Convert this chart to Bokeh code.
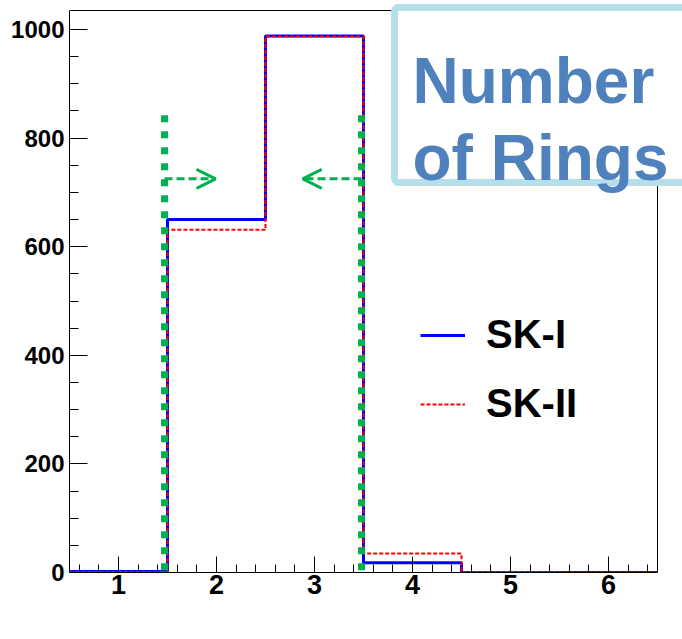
from bokeh.plotting import figure
from bokeh.models import (Range1d, SingleIntervalTicker, Legend, LegendItem,
                          Arrow, OpenHead, BoxAnnotation, Label)
from bokeh.embed import file_html
from bokeh.resources import INLINE

# Number of Cherenkov rings per event, bins centred on integers
ring_bins = [1, 2, 3, 4, 5, 6]
sk1_counts = [2, 650, 988, 18, 0, 0]
sk2_counts = [1, 631, 987, 35, 1, 0]

# Selection cut lines and arrows
cut_low = 1.47
cut_high = 3.48
cut_top = 842
arrow_level = 725
arrow_low_tip = 1.99
arrow_high_tip = 2.88

y_max = 1035
bin_edges = [b - 0.5 for b in ring_bins] + [ring_bins[-1] + 0.5]
x_lo, x_hi = bin_edges[0], bin_edges[-1]

FONT = "Liberation Sans"

# The drawing area spans 588 x 562 px for the histogram; the canvas region
# is extended to the right and top so the title box can overlap the frame.
area_w, area_h = 588, 562
frame_w, frame_h = 613, 572
x_end = x_lo + (x_hi - x_lo) * frame_w / area_w
y_end = y_max * frame_h / area_h

p = figure(width=682, height=639, frame_width=frame_w, frame_height=frame_h,
           min_border_left=69, min_border_right=0, min_border_top=0,
           min_border_bottom=67, output_backend="svg", toolbar_location=None,
           x_range=Range1d(x_lo, x_end), y_range=Range1d(0, y_end))

p.xgrid.visible = False
p.ygrid.visible = False
p.outline_line_color = None
p.background_fill_color = "white"
p.border_fill_color = "white"

# axes
p.xaxis.ticker = SingleIntervalTicker(interval=1, num_minor_ticks=5)
p.yaxis.ticker = SingleIntervalTicker(interval=200, num_minor_ticks=4)
p.xaxis.bounds = (x_lo, x_hi)
p.yaxis.bounds = (0, y_max)
for ax in (p.xaxis, p.yaxis):
    ax.axis_line_color = "black"
    ax.major_tick_line_color = "black"
    ax.minor_tick_line_color = "black"
    ax.major_tick_out = 0
    ax.minor_tick_out = 0
    ax.major_label_text_font = FONT
    ax.major_label_text_font_style = "bold"
    ax.major_label_text_color = "black"
p.xaxis.major_tick_in = 16
p.xaxis.minor_tick_in = 8
p.yaxis.major_tick_in = 18
p.yaxis.minor_tick_in = 9
p.xaxis.major_label_text_font_size = "27px"
p.yaxis.major_label_text_font_size = "24px"
p.xaxis.major_label_standoff = 2
p.yaxis.major_label_standoff = 5

# top and right edges of the histogram frame
p.line(x=[x_lo, x_hi, x_hi], y=[y_max, y_max, 0], line_color="black", line_width=1)

# histograms as steps
sk1 = p.step(x=bin_edges, y=sk1_counts + [sk1_counts[-1]], mode="after",
             line_color="#0000ff", line_width=3)
sk2 = p.step(x=bin_edges, y=sk2_counts + [sk2_counts[-1]], mode="after",
             line_color="#ff0000", line_width=2, line_dash="4 2")

# cut lines
green = "#00b050"
for cx in (cut_low, cut_high):
    p.line(x=[cx, cx], y=[cut_top, 0], line_color=green, line_width=7,
           line_dash="7 9", line_cap="butt")

p.add_layout(Arrow(x_start=cut_low, y_start=arrow_level, x_end=arrow_low_tip, y_end=arrow_level,
                   line_color=green, line_width=3, line_dash="8 4",
                   end=OpenHead(size=19, line_color=green, line_width=3)))
p.add_layout(Arrow(x_start=cut_high, y_start=arrow_level, x_end=arrow_high_tip, y_end=arrow_level,
                   line_color=green, line_width=3, line_dash="8 4",
                   end=OpenHead(size=19, line_color=green, line_width=3)))

# legend
legend = Legend(items=[LegendItem(label="SK-I", renderers=[sk1]),
                       LegendItem(label="SK-II", renderers=[sk2])],
                location=(351, 146), glyph_width=45, glyph_height=30,
                label_standoff=21, spacing=24, padding=0, margin=0,
                label_text_font=FONT, label_text_font_style="bold",
                label_text_font_size="40px", label_text_color="black",
                border_line_alpha=0, background_fill_alpha=0)
p.add_layout(legend)

# title box
p.add_layout(BoxAnnotation(left=325, right=640, top=565, bottom=390,
                           left_units="screen", right_units="screen",
                           top_units="screen", bottom_units="screen",
                           fill_color="white", fill_alpha=1,
                           line_color="#b7dfe9", line_width=7, line_alpha=1,
                           border_radius=4, level="overlay"))
for txt, yy in (("Number", 492), ("of Rings", 415)):
    p.add_layout(Label(x=343, y=yy, x_units="screen", y_units="screen", text=txt,
                       text_font=FONT, text_font_style="bold", text_font_size="64px",
                       text_color="#4f81bd", text_baseline="alphabetic",
                       level="overlay"))

open("out.html", "w").write(file_html(p, INLINE))
